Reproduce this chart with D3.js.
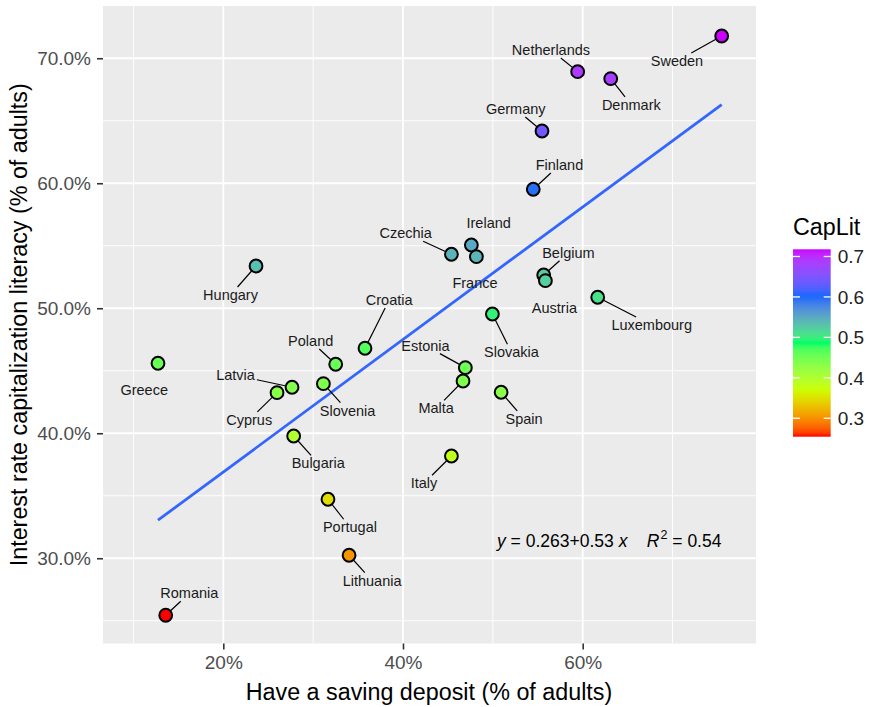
<!DOCTYPE html>
<html>
<head>
<meta charset="utf-8">
<script src="https://cdn.jsdelivr.net/npm/d3@7"></script>
<style>
  html, body { margin: 0; padding: 0; background: #ffffff; }
  svg { display: block; font-family: "Liberation Sans", Arial, sans-serif; }
</style>
</head>
<body>
<svg id="chart" width="870" height="707"></svg>
<script>
// Share of adults with a saving deposit vs. interest-rate capitalization literacy, EU countries
const countries = ["Sweden","Netherlands","Denmark","Germany","Finland","Ireland","France","Czechia",
  "Belgium","Austria","Luxembourg","Slovakia","Croatia","Poland","Slovenia","Estonia","Malta","Spain",
  "Hungary","Greece","Latvia","Cyprus","Bulgaria","Portugal","Lithuania","Romania","Italy"];
const savingDeposit = [0.7547,0.5944,0.6312,0.5547,0.5450,0.4761,0.4817,0.4539,
  0.5566,0.5585,0.6167,0.4995,0.3577,0.3251,0.3114,0.4694,0.4668,0.5092,
  0.2364,0.1273,0.2765,0.2598,0.2783,0.3165,0.3400,0.1359,0.4539];
const capLit = [0.7178,0.6893,0.6837,0.6418,0.5952,0.5506,0.5413,0.5432,
  0.5266,0.5221,0.5088,0.4954,0.4680,0.4552,0.4397,0.4525,0.4418,0.4328,
  0.5338,0.4560,0.4368,0.4325,0.3978,0.3472,0.3024,0.2544,0.3818];

// Linear fit reported on the chart
const fitIntercept = 0.263;
const fitSlope = 0.53;
const fitR2 = 0.54;

// Axis breaks
const xMajor = [0.2, 0.4, 0.6];
const xMinor = [0.1, 0.3, 0.5, 0.7];
const yMajor = [0.3, 0.4, 0.5, 0.6, 0.7];
const yMinor = [0.25, 0.35, 0.45, 0.55, 0.65];
const legendBreaks = [0.3, 0.4, 0.5, 0.6, 0.7];
// five-step rainbow palette, low to high
const gradientColours = ["#FF0000", "#CCFF00", "#00FF66", "#0066FF", "#CC00FF"];

// Label placement (pixel offset of each label centre from its point)
const labelOffset = {
  Sweden:[-44.7,25], Netherlands:[-26.7,-21.7], Denmark:[20.6,26.3], Germany:[-26.2,-22],
  Finland:[26.2,-24.3], Ireland:[17.3,-22.3], France:[-1.4,26.6], Czechia:[-45.7,-21],
  Belgium:[24.7,-22.3], Austria:[9,27], Luxembourg:[54,27.7], Slovakia:[19,38.3],
  Croatia:[24.2,-48.3], Poland:[-25,-23.3], Slovenia:[24.2,27], Estonia:[-39.9,-22],
  Malta:[-26.8,27.3], Spain:[23,26.7], Hungary:[-25.5,29], Greece:[-13.8,26.7],
  Latvia:[-56.5,-12], Cyprus:[-27.8,27.3], Bulgaria:[24.6,27.3], Portugal:[22,28],
  Lithuania:[23,25.3], Romania:[23.6,-22], Italy:[-27.4,27.3]
};
const noLeader = new Set(["Ireland","France","Austria","Greece"]);

const data = countries.map((c, i) => ({ name: c, x: savingDeposit[i], y: capLit[i] }));

const svg = d3.select("#chart");
const panel = { left: 103, top: 6, right: 756, bottom: 643.5 };

const x = d3.scaleLinear().domain([0.0661, 0.7929]).range([panel.left, panel.right]);
const y = d3.scaleLinear().domain([0.2318, 0.7418]).range([panel.bottom, panel.top]);

const yExtent = d3.extent(capLit);
const colour = d3.scaleLinear()
  .domain(gradientColours.map((_, i) => yExtent[0] + i * (yExtent[1] - yExtent[0]) / (gradientColours.length - 1)))
  .range(gradientColours)
  .interpolate(d3.interpolateLab);

// Panel background and grid
svg.append("rect")
  .attr("x", panel.left).attr("y", panel.top)
  .attr("width", panel.right - panel.left).attr("height", panel.bottom - panel.top)
  .attr("fill", "#ebebeb");

const grid = svg.append("g");
grid.selectAll(".xminor").data(xMinor).join("line")
  .attr("x1", d => x(d)).attr("x2", d => x(d))
  .attr("y1", panel.top).attr("y2", panel.bottom)
  .attr("stroke", "#fff").attr("stroke-width", 0.9);
grid.selectAll(".yminor").data(yMinor).join("line")
  .attr("y1", d => y(d)).attr("y2", d => y(d))
  .attr("x1", panel.left).attr("x2", panel.right)
  .attr("stroke", "#fff").attr("stroke-width", 0.9);
grid.selectAll(".xmajor").data(xMajor).join("line")
  .attr("x1", d => x(d)).attr("x2", d => x(d))
  .attr("y1", panel.top).attr("y2", panel.bottom)
  .attr("stroke", "#fff").attr("stroke-width", 1.8);
grid.selectAll(".ymajor").data(yMajor).join("line")
  .attr("y1", d => y(d)).attr("y2", d => y(d))
  .attr("x1", panel.left).attr("x2", panel.right)
  .attr("stroke", "#fff").attr("stroke-width", 1.8);

// Axes
const xAxis = d3.axisBottom(x).tickValues(xMajor).tickFormat(d3.format(".0%")).tickSize(6).tickPadding(6);
const yAxis = d3.axisLeft(y).tickValues(yMajor).tickFormat(d3.format(".1%")).tickSize(6).tickPadding(6);

const gx = svg.append("g").attr("transform", `translate(0,${panel.bottom})`).call(xAxis);
const gy = svg.append("g").attr("transform", `translate(${panel.left},0)`).call(yAxis);
[gx, gy].forEach(g => {
  g.select(".domain").remove();
  g.selectAll(".tick line").attr("stroke", "#333").attr("stroke-width", 1.6);
  g.selectAll(".tick text").attr("fill", "#4d4d4d").attr("font-size", 19)
    .attr("font-family", "Liberation Sans, Arial, sans-serif");
});

svg.append("text")
  .attr("x", 429).attr("y", 700)
  .attr("text-anchor", "middle").attr("font-size", 23.3).attr("fill", "#000")
  .text("Have a saving deposit (% of adults)");
svg.append("text")
  .attr("transform", `translate(27,${(panel.top + panel.bottom) / 2}) rotate(-90)`)
  .attr("text-anchor", "middle").attr("font-size", 23.3).attr("fill", "#000")
  .text("Interest rate capitalization literacy (% of adults)");

// Fitted line over the observed x range
const xr = d3.extent(savingDeposit);
const fitPts = xr.map(v => [v, fitIntercept + fitSlope * v]);
svg.append("path")
  .attr("d", d3.line().x(d => x(d[0])).y(d => y(d[1]))(fitPts))
  .attr("stroke", "#3366ff").attr("stroke-width", 2.8).attr("fill", "none");

// Labels and leader segments
const labelLayer = svg.append("g");
const segLayer = labelLayer.append("g");
const textLayer = labelLayer.append("g");
const radius = 6.4;

data.forEach(d => {
  const px = x(d.x), py = y(d.y);
  const [dx, dy] = labelOffset[d.name];
  const cx = px + dx, cy = py + dy;
  const t = textLayer.append("text")
    .attr("x", cx).attr("y", cy + 5)
    .attr("text-anchor", "middle").attr("font-size", 14.5).attr("fill", "#1a1a1a")
    .text(d.name);
  if (noLeader.has(d.name)) return;
  const hw = t.node().getComputedTextLength() / 2 + 2;
  const hh = 8;
  // where the centre-to-point line leaves the label box
  const vx = px - cx, vy = py - cy;
  const s = Math.min(Math.abs(vx) > 0 ? hw / Math.abs(vx) : Infinity,
                     Math.abs(vy) > 0 ? hh / Math.abs(vy) : Infinity);
  const sx = cx + vx * s, sy = cy + vy * s;
  segLayer.append("line")
    .attr("x1", sx).attr("y1", sy).attr("x2", px).attr("y2", py)
    .attr("stroke", "#000").attr("stroke-width", 1.2);
});

// Points
svg.append("g").selectAll("circle").data(data).join("circle")
  .attr("cx", d => x(d.x)).attr("cy", d => y(d.y)).attr("r", radius)
  .attr("fill", d => colour(d.y))
  .attr("stroke", "#000").attr("stroke-width", 2);

// Equation annotation
const eq = svg.append("text")
  .attr("x", 497).attr("y", 547)
  .attr("font-size", 17.5).attr("fill", "#000")
  .style("white-space", "pre");
eq.append("tspan").attr("font-style", "italic").text("y");
eq.append("tspan").text(` = ${fitIntercept}+${fitSlope} `);
eq.append("tspan").attr("font-style", "italic").text("x");
eq.append("tspan").text("    ");
eq.append("tspan").attr("font-style", "italic").text("R");
eq.append("tspan").attr("dy", -8).attr("dx", 1).attr("font-size", 12.5).text("2");
eq.append("tspan").attr("dy", 8).text(` = ${fitR2}`);

// Colour bar legend
const bar = { x: 793, w: 37.7, top: 249.3, bottom: 436.7 };
const ly = d3.scaleLinear().domain(yExtent).range([bar.bottom, bar.top]);
const defs = svg.append("defs");
const grad = defs.append("linearGradient").attr("id", "capgrad")
  .attr("x1", 0).attr("y1", 1).attr("x2", 0).attr("y2", 0);
d3.range(0, 1.0001, 0.02).forEach(t => {
  grad.append("stop").attr("offset", t)
    .attr("stop-color", colour(yExtent[0] + t * (yExtent[1] - yExtent[0])));
});
svg.append("text").attr("x", bar.x).attr("y", 235)
  .attr("font-size", 23.3).attr("fill", "#000").text("CapLit");
svg.append("rect").attr("x", bar.x).attr("y", bar.top)
  .attr("width", bar.w).attr("height", bar.bottom - bar.top)
  .attr("fill", "url(#capgrad)");
const lg = svg.append("g");
legendBreaks.forEach(b => {
  const yy = ly(b);
  lg.append("line").attr("x1", bar.x).attr("x2", bar.x + 7).attr("y1", yy).attr("y2", yy)
    .attr("stroke", "#fff").attr("stroke-width", 1.3);
  lg.append("line").attr("x1", bar.x + bar.w - 7).attr("x2", bar.x + bar.w).attr("y1", yy).attr("y2", yy)
    .attr("stroke", "#fff").attr("stroke-width", 1.3);
  lg.append("text").attr("x", bar.x + bar.w + 7).attr("y", yy + 7)
    .attr("font-size", 19).attr("fill", "#222").text(d3.format(".1f")(b));
});
</script>
</body>
</html>
